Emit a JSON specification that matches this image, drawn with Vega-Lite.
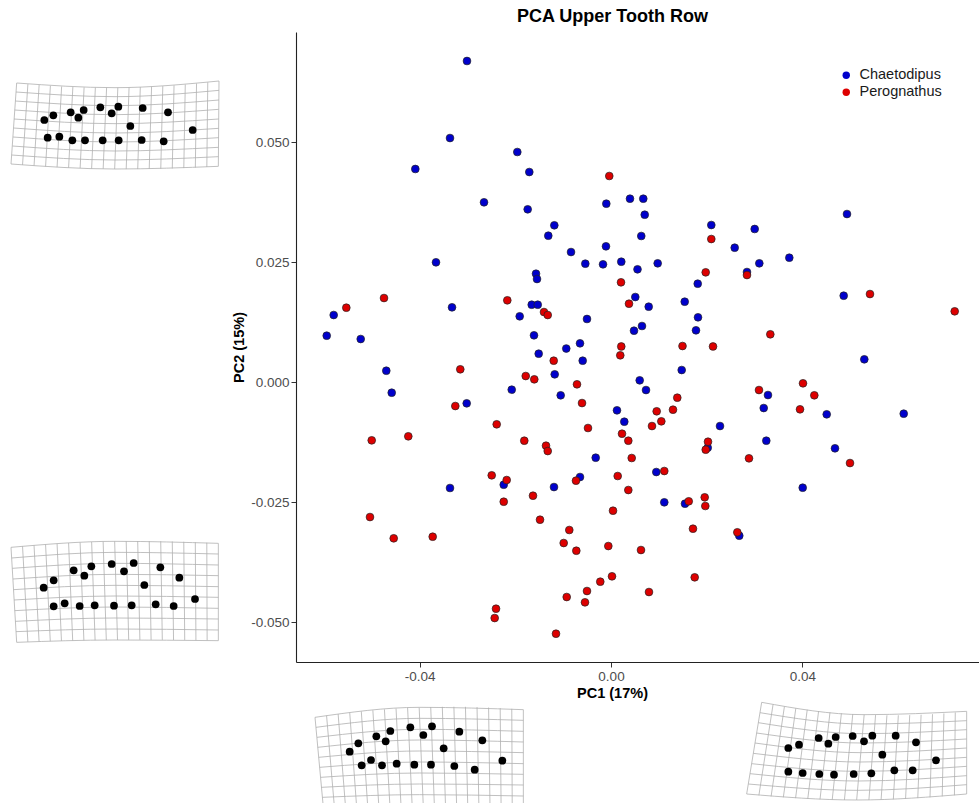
{
"$schema": "https://vega.github.io/schema/vega-lite/v6.json",
"padding": {"left": 0, "top": 8, "right": 0, "bottom": 0},
"background": "white",
"bounds": "flush",
"spacing": 296,
"datasets": {
"pts": [
{"PC1":-0.03011,"PC2":0.06688,"Genus":"Chaetodipus"},{"PC1":-0.03366,"PC2":0.05083,"Genus":"Chaetodipus"},{"PC1":-0.04091,"PC2":0.04438,"Genus":"Chaetodipus"},{"PC1":-0.03659,"PC2":0.02494,"Genus":"Chaetodipus"},{"PC1":-0.05798,"PC2":0.01396,"Genus":"Chaetodipus"},{"PC1":-0.03324,"PC2":0.01556,"Genus":"Chaetodipus"},{"PC1":-0.05944,"PC2":0.00965,"Genus":"Chaetodipus"},{"PC1":-0.05233,"PC2":0.00896,"Genus":"Chaetodipus"},{"PC1":-0.01959,"PC2":0.04792,"Genus":"Chaetodipus"},{"PC1":-0.01708,"PC2":0.04375,"Genus":"Chaetodipus"},{"PC1":-0.02655,"PC2":0.03744,"Genus":"Chaetodipus"},{"PC1":-0.01742,"PC2":0.03598,"Genus":"Chaetodipus"},{"PC1":-0.00098,"PC2":0.03715,"Genus":"Chaetodipus"},{"PC1":0.00397,"PC2":0.03819,"Genus":"Chaetodipus"},{"PC1":0.00675,"PC2":0.03819,"Genus":"Chaetodipus"},{"PC1":-0.01185,"PC2":0.03265,"Genus":"Chaetodipus"},{"PC1":-0.01311,"PC2":0.03048,"Genus":"Chaetodipus"},{"PC1":-0.00105,"PC2":0.02827,"Genus":"Chaetodipus"},{"PC1":-0.00836,"PC2":0.02708,"Genus":"Chaetodipus"},{"PC1":-0.00537,"PC2":0.02465,"Genus":"Chaetodipus"},{"PC1":-0.00167,"PC2":0.02452,"Genus":"Chaetodipus"},{"PC1":0.00215,"PC2":0.02506,"Genus":"Chaetodipus"},{"PC1":0.00554,"PC2":0.02348,"Genus":"Chaetodipus"},{"PC1":-0.01568,"PC2":0.02256,"Genus":"Chaetodipus"},{"PC1":-0.01547,"PC2":0.02146,"Genus":"Chaetodipus"},{"PC1":-0.01658,"PC2":0.0161,"Genus":"Chaetodipus"},{"PC1":-0.01532,"PC2":0.0161,"Genus":"Chaetodipus"},{"PC1":0.00508,"PC2":0.01771,"Genus":"Chaetodipus"},{"PC1":-0.01909,"PC2":0.01369,"Genus":"Chaetodipus"},{"PC1":-0.00502,"PC2":0.01313,"Genus":"Chaetodipus"},{"PC1":-0.0161,"PC2":0.00973,"Genus":"Chaetodipus"},{"PC1":0.00481,"PC2":0.01069,"Genus":"Chaetodipus"},{"PC1":0.00648,"PC2":0.01167,"Genus":"Chaetodipus"},{"PC1":-0.00648,"PC2":0.00806,"Genus":"Chaetodipus"},{"PC1":-0.00935,"PC2":0.00698,"Genus":"Chaetodipus"},{"PC1":-0.01512,"PC2":0.0059,"Genus":"Chaetodipus"},{"PC1":0.00705,"PC2":0.03485,"Genus":"Chaetodipus"},{"PC1":0.00633,"PC2":0.03042,"Genus":"Chaetodipus"},{"PC1":0.02097,"PC2":0.03271,"Genus":"Chaetodipus"},{"PC1":0.03004,"PC2":0.03188,"Genus":"Chaetodipus"},{"PC1":0.02586,"PC2":0.02798,"Genus":"Chaetodipus"},{"PC1":0.03728,"PC2":0.0259,"Genus":"Chaetodipus"},{"PC1":0.00976,"PC2":0.02473,"Genus":"Chaetodipus"},{"PC1":0.02843,"PC2":0.02292,"Genus":"Chaetodipus"},{"PC1":0.03101,"PC2":0.02473,"Genus":"Chaetodipus"},{"PC1":0.01813,"PC2":0.02048,"Genus":"Chaetodipus"},{"PC1":0.01541,"PC2":0.01673,"Genus":"Chaetodipus"},{"PC1":0.00788,"PC2":0.01569,"Genus":"Chaetodipus"},{"PC1":0.01819,"PC2":0.01348,"Genus":"Chaetodipus"},{"PC1":0.01777,"PC2":0.01077,"Genus":"Chaetodipus"},{"PC1":0.04934,"PC2":0.035,"Genus":"Chaetodipus"},{"PC1":0.04865,"PC2":0.01798,"Genus":"Chaetodipus"},{"PC1":-0.04698,"PC2":0.00235,"Genus":"Chaetodipus"},{"PC1":-0.04585,"PC2":-0.00223,"Genus":"Chaetodipus"},{"PC1":-0.03017,"PC2":-0.00444,"Genus":"Chaetodipus"},{"PC1":-0.03366,"PC2":-0.02208,"Genus":"Chaetodipus"},{"PC1":-0.00592,"PC2":0.00444,"Genus":"Chaetodipus"},{"PC1":-0.01177,"PC2":0.0016,"Genus":"Chaetodipus"},{"PC1":0.006,"PC2":0.00035,"Genus":"Chaetodipus"},{"PC1":-0.02076,"PC2":-0.0016,"Genus":"Chaetodipus"},{"PC1":-0.01052,"PC2":-0.00277,"Genus":"Chaetodipus"},{"PC1":0.00125,"PC2":-0.0059,"Genus":"Chaetodipus"},{"PC1":0.00278,"PC2":-0.00827,"Genus":"Chaetodipus"},{"PC1":-0.0032,"PC2":-0.01577,"Genus":"Chaetodipus"},{"PC1":-0.02243,"PC2":-0.0214,"Genus":"Chaetodipus"},{"PC1":-0.00648,"PC2":-0.01979,"Genus":"Chaetodipus"},{"PC1":-0.01192,"PC2":-0.02188,"Genus":"Chaetodipus"},{"PC1":0.01478,"PC2":0.0025,"Genus":"Chaetodipus"},{"PC1":0.00732,"PC2":-0.00167,"Genus":"Chaetodipus"},{"PC1":0.02279,"PC2":-0.00917,"Genus":"Chaetodipus"},{"PC1":0.02022,"PC2":-0.01369,"Genus":"Chaetodipus"},{"PC1":0.03282,"PC2":-0.00271,"Genus":"Chaetodipus"},{"PC1":0.03193,"PC2":-0.00542,"Genus":"Chaetodipus"},{"PC1":0.03247,"PC2":-0.01223,"Genus":"Chaetodipus"},{"PC1":0.00947,"PC2":-0.01875,"Genus":"Chaetodipus"},{"PC1":0.01114,"PC2":-0.02506,"Genus":"Chaetodipus"},{"PC1":0.01547,"PC2":-0.02535,"Genus":"Chaetodipus"},{"PC1":0.02682,"PC2":-0.03202,"Genus":"Chaetodipus"},{"PC1":0.04008,"PC2":-0.02202,"Genus":"Chaetodipus"},{"PC1":0.05296,"PC2":0.00473,"Genus":"Chaetodipus"},{"PC1":0.0451,"PC2":-0.00673,"Genus":"Chaetodipus"},{"PC1":0.0612,"PC2":-0.0066,"Genus":"Chaetodipus"},{"PC1":0.04683,"PC2":-0.01381,"Genus":"Chaetodipus"},
{"PC1":-0.00036,"PC2":0.04292,"Genus":"Perognathus"},{"PC1":-0.04746,"PC2":0.0175,"Genus":"Perognathus"},{"PC1":-0.05534,"PC2":0.01548,"Genus":"Perognathus"},{"PC1":0.00209,"PC2":0.02077,"Genus":"Perognathus"},{"PC1":-0.02168,"PC2":0.01702,"Genus":"Perognathus"},{"PC1":-0.01401,"PC2":0.01458,"Genus":"Perognathus"},{"PC1":-0.01323,"PC2":0.01396,"Genus":"Perognathus"},{"PC1":0.00376,"PC2":0.01631,"Genus":"Perognathus"},{"PC1":0.00215,"PC2":0.0074,"Genus":"Perognathus"},{"PC1":0.02097,"PC2":0.02979,"Genus":"Perognathus"},{"PC1":0.0198,"PC2":0.02285,"Genus":"Perognathus"},{"PC1":0.02843,"PC2":0.02229,"Genus":"Perognathus"},{"PC1":0.03331,"PC2":0.00994,"Genus":"Perognathus"},{"PC1":0.01495,"PC2":0.0075,"Genus":"Perognathus"},{"PC1":0.02133,"PC2":0.0074,"Genus":"Perognathus"},{"PC1":0.05415,"PC2":0.01833,"Genus":"Perognathus"},{"PC1":0.07186,"PC2":0.01473,"Genus":"Perognathus"},{"PC1":-0.03151,"PC2":0.00265,"Genus":"Perognathus"},{"PC1":-0.03255,"PC2":-0.005,"Genus":"Perognathus"},{"PC1":-0.05003,"PC2":-0.01215,"Genus":"Perognathus"},{"PC1":-0.04238,"PC2":-0.01131,"Genus":"Perognathus"},{"PC1":-0.05039,"PC2":-0.02813,"Genus":"Perognathus"},{"PC1":-0.04543,"PC2":-0.03256,"Genus":"Perognathus"},{"PC1":-0.03728,"PC2":-0.03223,"Genus":"Perognathus"},{"PC1":0.00194,"PC2":0.00556,"Genus":"Perognathus"},{"PC1":-0.01198,"PC2":0.00444,"Genus":"Perognathus"},{"PC1":-0.01783,"PC2":0.00125,"Genus":"Perognathus"},{"PC1":-0.01604,"PC2":0.00056,"Genus":"Perognathus"},{"PC1":-0.00711,"PC2":-0.00048,"Genus":"Perognathus"},{"PC1":-0.00606,"PC2":-0.00438,"Genus":"Perognathus"},{"PC1":-0.0239,"PC2":-0.00881,"Genus":"Perognathus"},{"PC1":-0.00481,"PC2":-0.00958,"Genus":"Perognathus"},{"PC1":0.0023,"PC2":-0.01077,"Genus":"Perognathus"},{"PC1":0.00362,"PC2":-0.01223,"Genus":"Perognathus"},{"PC1":-0.01813,"PC2":-0.01223,"Genus":"Perognathus"},{"PC1":-0.01359,"PC2":-0.01327,"Genus":"Perognathus"},{"PC1":-0.01323,"PC2":-0.01438,"Genus":"Perognathus"},{"PC1":0.00433,"PC2":-0.01583,"Genus":"Perognathus"},{"PC1":-0.02494,"PC2":-0.01944,"Genus":"Perognathus"},{"PC1":-0.02181,"PC2":-0.02042,"Genus":"Perognathus"},{"PC1":-0.00732,"PC2":-0.02056,"Genus":"Perognathus"},{"PC1":0.0014,"PC2":-0.01958,"Genus":"Perognathus"},{"PC1":0.00362,"PC2":-0.0225,"Genus":"Perognathus"},{"PC1":-0.01631,"PC2":-0.02369,"Genus":"Perognathus"},{"PC1":-0.02243,"PC2":-0.02494,"Genus":"Perognathus"},{"PC1":0.00042,"PC2":-0.02681,"Genus":"Perognathus"},{"PC1":-0.01484,"PC2":-0.02869,"Genus":"Perognathus"},{"PC1":-0.00872,"PC2":-0.03083,"Genus":"Perognathus"},{"PC1":-0.00989,"PC2":-0.03354,"Genus":"Perognathus"},{"PC1":-0.00725,"PC2":-0.03515,"Genus":"Perognathus"},{"PC1":-0.00056,"PC2":-0.03417,"Genus":"Perognathus"},{"PC1":0.00627,"PC2":-0.035,"Genus":"Perognathus"},{"PC1":0.00021,"PC2":-0.04048,"Genus":"Perognathus"},{"PC1":-0.00224,"PC2":-0.0416,"Genus":"Perognathus"},{"PC1":-0.00502,"PC2":-0.04354,"Genus":"Perognathus"},{"PC1":-0.00544,"PC2":-0.0459,"Genus":"Perognathus"},{"PC1":-0.00926,"PC2":-0.04479,"Genus":"Perognathus"},{"PC1":-0.02404,"PC2":-0.04723,"Genus":"Perognathus"},{"PC1":-0.02432,"PC2":-0.04917,"Genus":"Perognathus"},{"PC1":-0.0115,"PC2":-0.05244,"Genus":"Perognathus"},{"PC1":0.01386,"PC2":-0.00327,"Genus":"Perognathus"},{"PC1":0.00955,"PC2":-0.0061,"Genus":"Perognathus"},{"PC1":0.01296,"PC2":-0.00577,"Genus":"Perognathus"},{"PC1":0.01052,"PC2":-0.00819,"Genus":"Perognathus"},{"PC1":0.00857,"PC2":-0.00917,"Genus":"Perognathus"},{"PC1":0.02028,"PC2":-0.01244,"Genus":"Perognathus"},{"PC1":0.0198,"PC2":-0.0141,"Genus":"Perognathus"},{"PC1":0.03094,"PC2":-0.00167,"Genus":"Perognathus"},{"PC1":0.04014,"PC2":-0.00027,"Genus":"Perognathus"},{"PC1":0.03952,"PC2":-0.00569,"Genus":"Perognathus"},{"PC1":0.04251,"PC2":-0.00277,"Genus":"Perognathus"},{"PC1":0.02885,"PC2":-0.0159,"Genus":"Perognathus"},{"PC1":0.01114,"PC2":-0.01854,"Genus":"Perognathus"},{"PC1":0.01625,"PC2":-0.02485,"Genus":"Perognathus"},{"PC1":0.01959,"PC2":-0.02402,"Genus":"Perognathus"},{"PC1":0.01972,"PC2":-0.02583,"Genus":"Perognathus"},{"PC1":0.01714,"PC2":-0.03056,"Genus":"Perognathus"},{"PC1":0.02641,"PC2":-0.03131,"Genus":"Perognathus"},{"PC1":0.0175,"PC2":-0.04069,"Genus":"Perognathus"},{"PC1":0.00794,"PC2":-0.04375,"Genus":"Perognathus"},{"PC1":0.04997,"PC2":-0.01688,"Genus":"Perognathus"}
],
"lm": [
{"g":1,"x":118,"y":153},{"g":1,"x":145,"y":139},{"g":1,"x":197,"y":130},{"g":1,"x":220,"y":146},{"g":1,"x":236,"y":123},{"g":1,"x":286,"y":115},{"g":1,"x":320,"y":133},{"g":1,"x":340,"y":113},{"g":1,"x":413,"y":117},{"g":1,"x":489,"y":130},{"g":1,"x":376,"y":171},{"g":1,"x":563,"y":183},{"g":1,"x":128,"y":206},{"g":1,"x":163,"y":203},{"g":1,"x":202,"y":214},{"g":1,"x":240,"y":214},{"g":1,"x":293,"y":214},{"g":1,"x":341,"y":214},{"g":1,"x":410,"y":213},{"g":1,"x":476,"y":217},
{"g":2,"x":116,"y":161},{"g":2,"x":146,"y":139},{"g":2,"x":206,"y":109},{"g":2,"x":238,"y":125},{"g":2,"x":259,"y":97},{"g":2,"x":320,"y":90},{"g":2,"x":357,"y":112},{"g":2,"x":386,"y":87},{"g":2,"x":466,"y":100},{"g":2,"x":523,"y":131},{"g":2,"x":418,"y":153},{"g":2,"x":570,"y":195},{"g":2,"x":146,"y":217},{"g":2,"x":179,"y":208},{"g":2,"x":224,"y":216},{"g":2,"x":269,"y":214},{"g":2,"x":327,"y":215},{"g":2,"x":380,"y":214},{"g":2,"x":452,"y":211},{"g":2,"x":506,"y":216},
{"g":3,"x":119,"y":203},{"g":3,"x":145,"y":178},{"g":3,"x":199,"y":157},{"g":3,"x":227,"y":172},{"g":3,"x":241,"y":141},{"g":3,"x":301,"y":130},{"g":3,"x":340,"y":153},{"g":3,"x":366,"y":127},{"g":3,"x":448,"y":143},{"g":3,"x":517,"y":169},{"g":3,"x":401,"y":193},{"g":3,"x":577,"y":230},{"g":3,"x":155,"y":244},{"g":3,"x":183,"y":228},{"g":3,"x":216,"y":244},{"g":3,"x":260,"y":239},{"g":3,"x":313,"y":242},{"g":3,"x":363,"y":242},{"g":3,"x":433,"y":246},{"g":3,"x":494,"y":257},
{"g":4,"x":145,"y":162},{"g":4,"x":177,"y":152},{"g":4,"x":236,"y":132},{"g":4,"x":265,"y":149},{"g":4,"x":287,"y":129},{"g":4,"x":338,"y":126},{"g":4,"x":372,"y":142},{"g":4,"x":397,"y":125},{"g":4,"x":467,"y":125},{"g":4,"x":528,"y":145},{"g":4,"x":427,"y":182},{"g":4,"x":588,"y":199},{"g":4,"x":145,"y":233},{"g":4,"x":188,"y":237},{"g":4,"x":238,"y":240},{"g":4,"x":282,"y":242},{"g":4,"x":341,"y":240},{"g":4,"x":394,"y":238},{"g":4,"x":463,"y":229},{"g":4,"x":518,"y":229}
],
"hl": [
{"g":1,"j":0,"x":35,"y":42},{"g":1,"j":0,"x":330,"y":56},{"g":1,"j":0,"x":642,"y":36},
{"g":1,"j":1,"x":33,"y":69},{"g":1,"j":1,"x":330,"y":83},{"g":1,"j":1,"x":642,"y":64},
{"g":1,"j":2,"x":31,"y":96},{"g":1,"j":2,"x":330,"y":110},{"g":1,"j":2,"x":642,"y":93},
{"g":1,"j":3,"x":29,"y":123},{"g":1,"j":3,"x":330,"y":137},{"g":1,"j":3,"x":641,"y":121},
{"g":1,"j":4,"x":27,"y":150},{"g":1,"j":4,"x":330,"y":164},{"g":1,"j":4,"x":641,"y":150},
{"g":1,"j":5,"x":26,"y":177},{"g":1,"j":5,"x":330,"y":192},{"g":1,"j":5,"x":641,"y":178},
{"g":1,"j":6,"x":24,"y":204},{"g":1,"j":6,"x":330,"y":219},{"g":1,"j":6,"x":641,"y":206},
{"g":1,"j":7,"x":22,"y":231},{"g":1,"j":7,"x":330,"y":246},{"g":1,"j":7,"x":640,"y":235},
{"g":1,"j":8,"x":20,"y":258},{"g":1,"j":8,"x":330,"y":273},{"g":1,"j":8,"x":640,"y":263},
{"g":1,"j":9,"x":18,"y":285},{"g":1,"j":9,"x":330,"y":300},{"g":1,"j":9,"x":640,"y":292},
{"g":2,"j":0,"x":18,"y":40},{"g":2,"j":0,"x":330,"y":22},{"g":2,"j":0,"x":640,"y":28},
{"g":2,"j":1,"x":20,"y":72},{"g":2,"j":1,"x":330,"y":55},{"g":2,"j":1,"x":640,"y":60},
{"g":2,"j":2,"x":22,"y":103},{"g":2,"j":2,"x":330,"y":88},{"g":2,"j":2,"x":640,"y":93},
{"g":2,"j":3,"x":24,"y":135},{"g":2,"j":3,"x":330,"y":121},{"g":2,"j":3,"x":640,"y":125},
{"g":2,"j":4,"x":26,"y":167},{"g":2,"j":4,"x":330,"y":154},{"g":2,"j":4,"x":640,"y":158},
{"g":2,"j":5,"x":27,"y":198},{"g":2,"j":5,"x":330,"y":186},{"g":2,"j":5,"x":640,"y":190},
{"g":2,"j":6,"x":29,"y":230},{"g":2,"j":6,"x":330,"y":219},{"g":2,"j":6,"x":640,"y":223},
{"g":2,"j":7,"x":31,"y":262},{"g":2,"j":7,"x":330,"y":252},{"g":2,"j":7,"x":640,"y":255},
{"g":2,"j":8,"x":33,"y":293},{"g":2,"j":8,"x":330,"y":285},{"g":2,"j":8,"x":640,"y":288},
{"g":2,"j":9,"x":35,"y":325},{"g":2,"j":9,"x":330,"y":318},{"g":2,"j":9,"x":640,"y":320},
{"g":3,"j":0,"x":15,"y":100},{"g":3,"j":0,"x":328,"y":70},{"g":3,"j":0,"x":640,"y":77},
{"g":3,"j":1,"x":18,"y":130},{"g":3,"j":1,"x":328,"y":103},{"g":3,"j":1,"x":640,"y":109},
{"g":3,"j":2,"x":21,"y":160},{"g":3,"j":2,"x":328,"y":136},{"g":3,"j":2,"x":640,"y":142},
{"g":3,"j":3,"x":23,"y":190},{"g":3,"j":3,"x":328,"y":168},{"g":3,"j":3,"x":640,"y":174},
{"g":3,"j":4,"x":26,"y":220},{"g":3,"j":4,"x":328,"y":201},{"g":3,"j":4,"x":640,"y":206},
{"g":3,"j":5,"x":29,"y":250},{"g":3,"j":5,"x":328,"y":234},{"g":3,"j":5,"x":640,"y":239},
{"g":3,"j":6,"x":32,"y":280},{"g":3,"j":6,"x":328,"y":267},{"g":3,"j":6,"x":640,"y":271},
{"g":3,"j":7,"x":34,"y":310},{"g":3,"j":7,"x":328,"y":300},{"g":3,"j":7,"x":640,"y":303},
{"g":3,"j":8,"x":37,"y":340},{"g":3,"j":8,"x":328,"y":332},{"g":3,"j":8,"x":640,"y":336},
{"g":3,"j":9,"x":40,"y":370},{"g":3,"j":9,"x":328,"y":365},{"g":3,"j":9,"x":640,"y":368},
{"g":4,"j":0,"x":65,"y":25},{"g":4,"j":0,"x":372,"y":62},{"g":4,"j":0,"x":680,"y":52},
{"g":4,"j":1,"x":60,"y":56},{"g":4,"j":1,"x":370,"y":90},{"g":4,"j":1,"x":680,"y":80},
{"g":4,"j":2,"x":55,"y":86},{"g":4,"j":2,"x":367,"y":119},{"g":4,"j":2,"x":680,"y":107},
{"g":4,"j":3,"x":50,"y":117},{"g":4,"j":3,"x":365,"y":147},{"g":4,"j":3,"x":680,"y":135},
{"g":4,"j":4,"x":45,"y":147},{"g":4,"j":4,"x":362,"y":176},{"g":4,"j":4,"x":680,"y":162},
{"g":4,"j":5,"x":40,"y":178},{"g":4,"j":5,"x":360,"y":204},{"g":4,"j":5,"x":680,"y":190},
{"g":4,"j":6,"x":35,"y":209},{"g":4,"j":6,"x":357,"y":232},{"g":4,"j":6,"x":680,"y":217},
{"g":4,"j":7,"x":30,"y":239},{"g":4,"j":7,"x":355,"y":261},{"g":4,"j":7,"x":680,"y":245},
{"g":4,"j":8,"x":25,"y":270},{"g":4,"j":8,"x":352,"y":289},{"g":4,"j":8,"x":680,"y":272},
{"g":4,"j":9,"x":20,"y":300},{"g":4,"j":9,"x":350,"y":318},{"g":4,"j":9,"x":680,"y":300}
],
"vl": [
{"g":1,"x":35,"y":42,"x2":18,"y2":285},{"g":1,"x":68.7,"y":45.2,"x2":52.6,"y2":287.8},{"g":1,"x":102.4,"y":48,"x2":87.1,"y2":290.3},{"g":1,"x":136.2,"y":50.4,"x2":121.7,"y2":292.6},{"g":1,"x":169.9,"y":52.3,"x2":156.2,"y2":294.5},{"g":1,"x":203.6,"y":53.9,"x2":190.8,"y2":296.2},{"g":1,"x":237.3,"y":55,"x2":225.4,"y2":297.6},{"g":1,"x":271.1,"y":55.7,"x2":259.9,"y2":298.7},{"g":1,"x":304.8,"y":56,"x2":294.5,"y2":299.5},{"g":1,"x":338.5,"y":55.9,"x2":329,"y2":300},{"g":1,"x":372.2,"y":55.4,"x2":363.6,"y2":300.3},{"g":1,"x":405.9,"y":54.4,"x2":398.2,"y2":300.2},{"g":1,"x":439.7,"y":53,"x2":432.7,"y2":299.9},{"g":1,"x":473.4,"y":51.2,"x2":467.3,"y2":299.3},{"g":1,"x":507.1,"y":49,"x2":501.8,"y2":298.4},{"g":1,"x":540.8,"y":46.4,"x2":536.4,"y2":297.2},{"g":1,"x":574.6,"y":43.3,"x2":571,"y2":295.8},{"g":1,"x":608.3,"y":39.9,"x2":605.5,"y2":294},{"g":1,"x":642,"y":36,"x2":640,"y2":292},
{"g":2,"x":18,"y":40,"x2":35,"y2":325},{"g":2,"x":52.6,"y":36.8,"x2":68.6,"y2":323.8},{"g":2,"x":87.1,"y":33.9,"x2":102.2,"y2":322.7},{"g":2,"x":121.7,"y":31.3,"x2":135.8,"y2":321.7},{"g":2,"x":156.2,"y":29,"x2":169.4,"y2":320.8},{"g":2,"x":190.8,"y":27,"x2":203.1,"y2":320},{"g":2,"x":225.3,"y":25.3,"x2":236.7,"y2":319.3},{"g":2,"x":259.9,"y":23.9,"x2":270.3,"y2":318.8},{"g":2,"x":294.4,"y":22.8,"x2":303.9,"y2":318.3},{"g":2,"x":329,"y":22,"x2":337.5,"y2":318},{"g":2,"x":363.6,"y":21.5,"x2":371.1,"y2":317.8},{"g":2,"x":398.1,"y":21.3,"x2":404.7,"y2":317.7},{"g":2,"x":432.7,"y":21.3,"x2":438.3,"y2":317.7},{"g":2,"x":467.2,"y":21.7,"x2":471.9,"y2":317.8},{"g":2,"x":501.8,"y":22.4,"x2":505.6,"y2":318},{"g":2,"x":536.3,"y":23.3,"x2":539.2,"y2":318.3},{"g":2,"x":570.9,"y":24.6,"x2":572.8,"y2":318.8},{"g":2,"x":605.4,"y":26.2,"x2":606.4,"y2":319.3},{"g":2,"x":640,"y":28,"x2":640,"y2":320},
{"g":3,"x":15,"y":100,"x2":40,"y2":370},{"g":3,"x":49.7,"y":94.8,"x2":73.3,"y2":370},{"g":3,"x":84.4,"y":90.1,"x2":106.7,"y2":370},{"g":3,"x":119.2,"y":85.9,"x2":140,"y2":370},{"g":3,"x":153.9,"y":82.1,"x2":173.3,"y2":370},{"g":3,"x":188.6,"y":78.8,"x2":206.7,"y2":370},{"g":3,"x":223.3,"y":75.9,"x2":240,"y2":370},{"g":3,"x":258.1,"y":73.5,"x2":273.3,"y2":370},{"g":3,"x":292.8,"y":71.5,"x2":306.7,"y2":370},{"g":3,"x":327.5,"y":70,"x2":340,"y2":370},{"g":3,"x":362.2,"y":69,"x2":373.3,"y2":370},{"g":3,"x":396.9,"y":68.4,"x2":406.7,"y2":370},{"g":3,"x":431.7,"y":68.2,"x2":440,"y2":370},{"g":3,"x":466.4,"y":68.5,"x2":473.3,"y2":370},{"g":3,"x":501.1,"y":69.3,"x2":506.7,"y2":370},{"g":3,"x":535.8,"y":70.6,"x2":540,"y2":370},{"g":3,"x":570.6,"y":72.2,"x2":573.3,"y2":370},{"g":3,"x":605.3,"y":74.4,"x2":606.7,"y2":370},{"g":3,"x":640,"y":77,"x2":640,"y2":370},
{"g":4,"x":65,"y":25,"x2":20,"y2":300},{"g":4,"x":99.2,"y":31.4,"x2":56.7,"y2":303.8},{"g":4,"x":133.3,"y":37.3,"x2":93.3,"y2":307.1},{"g":4,"x":167.5,"y":42.6,"x2":130,"y2":310},{"g":4,"x":201.7,"y":47.2,"x2":166.7,"y2":312.4},{"g":4,"x":235.8,"y":51.4,"x2":203.3,"y2":314.4},{"g":4,"x":270,"y":54.9,"x2":240,"y2":316},{"g":4,"x":304.2,"y":57.8,"x2":276.7,"y2":317.1},{"g":4,"x":338.3,"y":60.2,"x2":313.3,"y2":317.8},{"g":4,"x":372.5,"y":62,"x2":350,"y2":318},{"g":4,"x":406.7,"y":63.2,"x2":386.7,"y2":317.8},{"g":4,"x":440.8,"y":63.8,"x2":423.3,"y2":317.1},{"g":4,"x":475,"y":63.9,"x2":460,"y2":316},{"g":4,"x":509.2,"y":63.4,"x2":496.7,"y2":314.4},{"g":4,"x":543.3,"y":62.2,"x2":533.3,"y2":312.4},{"g":4,"x":577.5,"y":60.6,"x2":570,"y2":310},{"g":4,"x":611.7,"y":58.3,"x2":606.7,"y2":307.1},{"g":4,"x":645.8,"y":55.4,"x2":643.3,"y2":303.8},{"g":4,"x":680,"y":52,"x2":680,"y2":300}
]
},
"hconcat": [
{
"bounds": "flush",
"spacing": 360,
"vconcat": [
{
"width": 220, "height": 142,
"layer": [
{"data": {"name": "vl"}, "transform": [{"filter": "datum.g == 1"}], "mark": {"type": "rule", "color": "#b0b0b0", "strokeWidth": 0.8},
"encoding": {"x": {"field": "x", "type": "quantitative", "scale": {"domain": [-15, 645], "nice": false, "zero": false}, "axis": null}, "y": {"field": "y", "type": "quantitative", "scale": {"domain": [-111, 315], "reverse": true, "nice": false, "zero": false}, "axis": null}, "x2": {"field": "x2"}, "y2": {"field": "y2"}}},
{"data": {"name": "hl"}, "transform": [{"filter": "datum.g == 1"}], "mark": {"type": "line", "interpolate": "monotone", "color": "#b0b0b0", "strokeWidth": 0.8},
"encoding": {"x": {"field": "x", "type": "quantitative"}, "y": {"field": "y", "type": "quantitative"}, "detail": {"field": "j", "type": "nominal"}}},
{"data": {"name": "lm"}, "transform": [{"filter": "datum.g == 1"}], "mark": {"type": "point", "filled": true, "color": "black", "size": 60, "opacity": 1},
"encoding": {"x": {"field": "x", "type": "quantitative"}, "y": {"field": "y", "type": "quantitative"}}}
]
},
{
"width": 220, "height": 115,
"layer": [
{"data": {"name": "vl"}, "transform": [{"filter": "datum.g == 2"}], "mark": {"type": "rule", "color": "#b0b0b0", "strokeWidth": 0.8},
"encoding": {"x": {"field": "x", "type": "quantitative", "scale": {"domain": [-15, 645], "nice": false, "zero": false}, "axis": null}, "y": {"field": "y", "type": "quantitative", "scale": {"domain": [0, 345], "reverse": true, "nice": false, "zero": false}, "axis": null}, "x2": {"field": "x2"}, "y2": {"field": "y2"}}},
{"data": {"name": "hl"}, "transform": [{"filter": "datum.g == 2"}], "mark": {"type": "line", "interpolate": "monotone", "color": "#b0b0b0", "strokeWidth": 0.8},
"encoding": {"x": {"field": "x", "type": "quantitative"}, "y": {"field": "y", "type": "quantitative"}, "detail": {"field": "j", "type": "nominal"}}},
{"data": {"name": "lm"}, "transform": [{"filter": "datum.g == 2"}], "mark": {"type": "point", "filled": true, "color": "black", "size": 60, "opacity": 1},
"encoding": {"x": {"field": "x", "type": "quantitative"}, "y": {"field": "y", "type": "quantitative"}}}
]
}
]
},
{
"bounds": "flush",
"spacing": 22,
"vconcat": [
{
"width": 683, "height": 630,
"title": {"text": "PCA Upper Tooth Row", "fontSize": 18, "fontWeight": "bold", "color": "black", "dx": -25, "offset": 6},
"data": {"name": "pts"},
"mark": {"type": "point", "filled": true, "size": 60, "stroke": "#222222", "strokeWidth": 0.7, "opacity": 1},
"encoding": {
"x": {"field": "PC1", "type": "quantitative", "scale": {"domain": [-0.06586, 0.07694], "nice": false, "zero": false},
"axis": {"title": "PC1 (17%)", "values": [-0.04, 0, 0.04], "format": ".2f", "labelExpr": "replace(datum.label, '\u2212', '-')", "titleX": 316}},
"y": {"field": "PC2", "type": "quantitative", "scale": {"domain": [-0.05833, 0.07292], "nice": false, "zero": false},
"axis": {"title": "PC2 (15%)", "values": [-0.05, -0.025, 0, 0.025, 0.05], "format": ".3f", "labelExpr": "replace(datum.label, '\u2212', '-')"}},
"fill": {"field": "Genus", "type": "nominal", "scale": {"domain": ["Chaetodipus", "Perognathus"], "range": ["#0000cc", "#dd0000"]},
"legend": {"title": null, "orient": "none", "legendX": 839, "legendY": 36, "symbolType": "circle", "symbolSize": 55, "symbolStrokeWidth": 0, "labelFontSize": 14.5, "labelColor": "#1a1a1a", "rowPadding": 2, "labelOffset": 6}}
}
},
{
"bounds": "flush",
"spacing": 215,
"hconcat": [
{
"width": 229, "height": 118,
"layer": [
{"data": {"name": "vl"}, "transform": [{"filter": "datum.g == 3"}], "mark": {"type": "rule", "color": "#b0b0b0", "strokeWidth": 0.8},
"encoding": {"x": {"field": "x", "type": "quantitative", "scale": {"domain": [-42, 645], "nice": false, "zero": false}, "axis": null}, "y": {"field": "y", "type": "quantitative", "scale": {"domain": [0, 354], "reverse": true, "nice": false, "zero": false}, "axis": null}, "x2": {"field": "x2"}, "y2": {"field": "y2"}}},
{"data": {"name": "hl"}, "transform": [{"filter": "datum.g == 3"}], "mark": {"type": "line", "interpolate": "monotone", "color": "#b0b0b0", "strokeWidth": 0.8},
"encoding": {"x": {"field": "x", "type": "quantitative"}, "y": {"field": "y", "type": "quantitative"}, "detail": {"field": "j", "type": "nominal"}}},
{"data": {"name": "lm"}, "transform": [{"filter": "datum.g == 3"}], "mark": {"type": "point", "filled": true, "color": "black", "size": 60, "opacity": 1},
"encoding": {"x": {"field": "x", "type": "quantitative"}, "y": {"field": "y", "type": "quantitative"}}}
]
},
{
"width": 239, "height": 118,
"layer": [
{"data": {"name": "vl"}, "transform": [{"filter": "datum.g == 4"}], "mark": {"type": "rule", "color": "#b0b0b0", "strokeWidth": 0.8},
"encoding": {"x": {"field": "x", "type": "quantitative", "scale": {"domain": [0, 717], "nice": false, "zero": false}, "axis": null}, "y": {"field": "y", "type": "quantitative", "scale": {"domain": [-30, 324], "reverse": true, "nice": false, "zero": false}, "axis": null}, "x2": {"field": "x2"}, "y2": {"field": "y2"}}},
{"data": {"name": "hl"}, "transform": [{"filter": "datum.g == 4"}], "mark": {"type": "line", "interpolate": "monotone", "color": "#b0b0b0", "strokeWidth": 0.8},
"encoding": {"x": {"field": "x", "type": "quantitative"}, "y": {"field": "y", "type": "quantitative"}, "detail": {"field": "j", "type": "nominal"}}},
{"data": {"name": "lm"}, "transform": [{"filter": "datum.g == 4"}], "mark": {"type": "point", "filled": true, "color": "black", "size": 60, "opacity": 1},
"encoding": {"x": {"field": "x", "type": "quantitative"}, "y": {"field": "y", "type": "quantitative"}}}
]
}
]
}
]
}
],
"config": {
"font": "Liberation Sans",
"view": {"stroke": null},
"axis": {"grid": false, "domainColor": "#222222", "domainWidth": 1.1, "tickColor": "#333333", "tickSize": 5, "labelFontSize": 13.5, "labelColor": "#4d4d4d", "labelPadding": 2, "titleFontSize": 14.5, "titleFontWeight": "bold", "titleColor": "black", "titlePadding": 4},
"legend": {"labelFont": "Liberation Sans"}
}
}
